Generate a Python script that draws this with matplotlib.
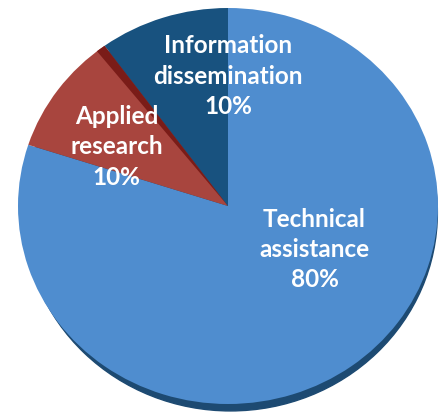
import matplotlib.pyplot as plt
from matplotlib.patches import Ellipse, Wedge

# data
categories = ["Technical\nassistance", "Applied\nresearch", "Information\ndissemination"]
shares = [80, 10, 10]
colors = ["#4f8dcf", "#a8453e", "#18527f"]

# label placement (x, y) in pie units, picked to match the original layout
label_pos = [(0.412, -0.22), (-0.53, 0.298), (0.0, 0.656)]

fig = plt.figure(figsize=(4.41, 4.16), dpi=100)
ax = fig.add_axes([0, 0, 1, 1])

# dark rim under the pie for the slight 3D look
ax.add_patch(Ellipse((0.012, -0.035), 1.97, 2.0, color="#1d4a72", zorder=0))

wedges, _ = ax.pie(shares, colors=colors, startangle=90, counterclock=False,
                   radius=1.0, wedgeprops=dict(linewidth=0))
for w in wedges:
    w.set_zorder(1)

# darker edge strip on the red slice, next to the dark blue one
start_red = 90 - 360 * (shares[0] + shares[1]) / 100
ax.add_patch(Wedge((0, 0), 1.0, start_red, start_red + 2.6,
                   color="#7a1c18", lw=0, zorder=2))

for name, pct, (x, y) in zip(categories, shares, label_pos):
    ax.text(x, y, f"{name}\n{pct}%", ha="center", va="center", color="white",
            fontsize=17.5, fontweight="bold", family="Lato", linespacing=1.38, zorder=3)

ax.set_aspect("auto")
ax.set_xlim(-228 / 210, (441 - 228) / 210)
ax.set_ylim(-(416 - 206) / 198, 206 / 198)
ax.axis("off")

fig.savefig("out.png", dpi=100)
